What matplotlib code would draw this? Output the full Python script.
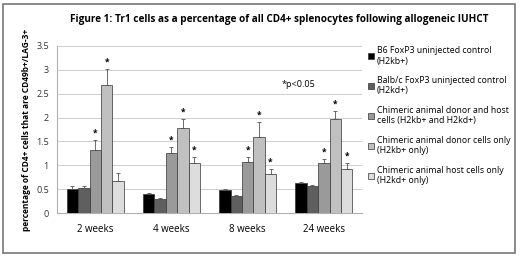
import matplotlib
matplotlib.use('Agg')
import matplotlib.pyplot as plt
from matplotlib.patches import Rectangle
import numpy as np

plt.rcParams['font.family'] = ['Open Sans', 'DejaVu Sans']

weeks = ['2 weeks', '4 weeks', '8 weeks', '24 weeks']
groups = ['B6 FoxP3 uninjected control\n(H2kb+)',
          'Balb/c FoxP3 uninjected control\n(H2kd+)',
          'Chimeric animal donor and host\ncells (H2kb+ and H2kd+)',
          'Chimeric animal donor cells only\n(H2kb+ only)',
          'Chimeric animal host cells only\n(H2kd+ only)']
colors = ['#000000', '#5f5f5f', '#9a9a9a', '#c0c0c0', '#dddddd']

b6 = [0.50, 0.40, 0.48, 0.63]
balbc = [0.52, 0.29, 0.35, 0.56]
chim_both = [1.33, 1.25, 1.07, 1.04]
chim_donor = [2.68, 1.79, 1.60, 1.97]
chim_host = [0.68, 1.05, 0.82, 0.93]

b6_err = [0.07, 0.02, 0.03, 0.02]
balbc_err = [0.04, 0.02, 0.03, 0.02]
both_err = [0.20, 0.14, 0.11, 0.10]
donor_err = [0.34, 0.18, 0.30, 0.16]
host_err = [0.17, 0.13, 0.11, 0.12]

# which bars get a significance star
signif = [[False, False, True, True, False],
          [False, False, True, True, True],
          [False, False, True, True, True],
          [False, False, True, True, True]]

values = [b6, balbc, chim_both, chim_donor, chim_host]
errors = [b6_err, balbc_err, both_err, donor_err, host_err]

fig = plt.figure(figsize=(5.2, 2.58), dpi=100)
ax = fig.add_axes([0.11, 0.174, 0.586, 0.648])

x = np.arange(len(weeks))
w = 0.15
for i in range(5):
    pos = x + (i - 2) * w
    ax.bar(pos, values[i], w, color=colors[i], edgecolor='#333333', linewidth=0.5,
           label=groups[i], zorder=3)
    ax.errorbar(pos, values[i], yerr=[np.zeros(4), errors[i]], fmt='none',
                ecolor='#555555', elinewidth=0.6, capsize=1.5, capthick=0.6, zorder=4)
    for j in range(4):
        if signif[j][i]:
            ax.text(pos[j], values[i][j] + errors[i][j] + 0.05, '*', ha='center',
                    va='bottom', fontsize=6, fontweight='bold')

ax.text(2.45, 2.65, '*p<0.05', fontsize=6.5)

ax.set_xlim(-0.5, 3.5)
ax.set_ylim(0, 3.5)
ax.set_yticks(np.arange(0, 3.51, 0.5))
ax.set_yticklabels(['0', '0.5', '1', '1.5', '2', '2.5', '3', '3.5'])
ax.set_xticks(x)
ax.set_xticklabels(weeks)
ax.tick_params(axis='x', length=0, pad=8, labelsize=7)
ax.tick_params(axis='y', length=0, pad=6, labelsize=6.5, labelcolor='#333333')
ax.yaxis.grid(True, color='#c8c8c8', linewidth=0.6, zorder=0)
for s in ['top', 'right']:
    ax.spines[s].set_visible(False)
ax.spines['left'].set_color('#b0b0b0')
ax.spines['bottom'].set_color('#b0b0b0')
ax.set_ylabel('percentage of CD4+ cells that are CD49b+/LAG-3+', fontsize=6,
              fontweight='bold', labelpad=4)

ax.set_title('Figure 1: Tr1 cells as a percentage of all CD4+ splenocytes following allogeneic IUHCT',
             fontsize=7.2, fontweight='bold', x=0.73, pad=17)

ax.legend(loc='upper left', bbox_to_anchor=(1.0, 1.035), frameon=False, fontsize=6.3,
          handlelength=0.7, handleheight=0.7, handletextpad=0.3, labelspacing=1.2,
          borderaxespad=0.3)

fig.patches.append(Rectangle((0.006, 0.02), 0.985, 0.965, transform=fig.transFigure,
                             fill=False, edgecolor='#777777', linewidth=1.2))

fig.savefig('out.png', dpi=100)
